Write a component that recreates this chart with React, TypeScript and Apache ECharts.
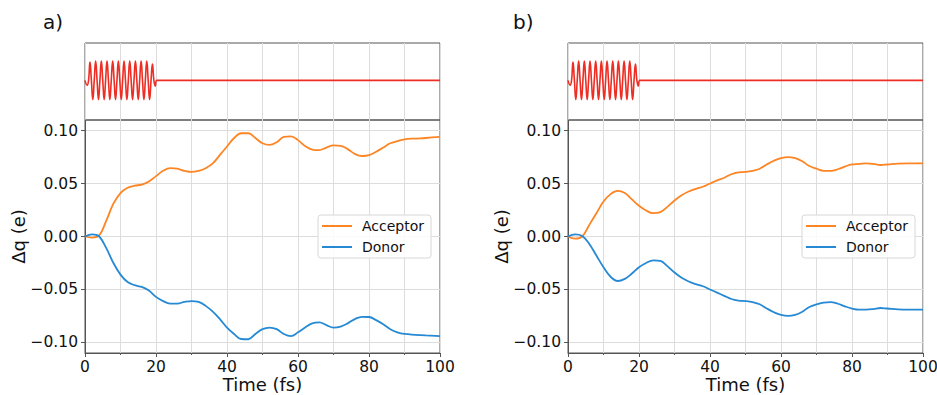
import React, { useEffect, useRef } from "react";
import * as echarts from "echarts";

const FONT = "DejaVu Sans";

const times = [
  0, 2, 4, 6, 8, 10, 12, 14, 16, 18, 20, 22, 24, 26, 28, 30, 32, 34, 36, 38, 40, 42, 44, 46, 48, 50,
  52, 54, 56, 58, 60, 62, 64, 66, 68, 70, 72, 74, 76, 78, 80, 82, 84, 86, 88, 90, 93, 96, 100,
];

const acceptorA = [
  0, -0.001, 0.001, 0.015, 0.031, 0.041, 0.046, 0.048, 0.049, 0.052, 0.057, 0.062, 0.0645, 0.064,
  0.062, 0.061, 0.062, 0.0645, 0.069, 0.077, 0.085, 0.093, 0.0975, 0.0975, 0.093, 0.088, 0.0865,
  0.089, 0.094, 0.0945, 0.091, 0.0855, 0.082, 0.0815, 0.084, 0.086, 0.0855, 0.0825, 0.078, 0.076,
  0.0768, 0.08, 0.084, 0.088, 0.09, 0.0918, 0.0925, 0.093, 0.094,
];

const donorA = [
  0, 0.002, 0, -0.011, -0.025, -0.036, -0.043, -0.046, -0.0476, -0.051, -0.057, -0.061, -0.0633,
  -0.0633, -0.0618, -0.061, -0.0618, -0.0655, -0.071, -0.078, -0.086, -0.092, -0.0968, -0.097,
  -0.092, -0.0875, -0.086, -0.0875, -0.092, -0.094, -0.0905, -0.086, -0.082, -0.081, -0.0837,
  -0.086, -0.085, -0.082, -0.078, -0.0758, -0.076, -0.079, -0.0828, -0.0875, -0.0905, -0.092,
  -0.0928, -0.0934, -0.094,
];

const acceptorB = [
  0, -0.002, 0, 0.011, 0.022, 0.033, 0.04, 0.043, 0.041, 0.035, 0.029, 0.0245, 0.022, 0.023, 0.028,
  0.034, 0.039, 0.0425, 0.045, 0.047, 0.05, 0.053, 0.0555, 0.0588, 0.0606, 0.061, 0.062, 0.064,
  0.068, 0.0715, 0.074, 0.075, 0.074, 0.071, 0.0665, 0.064, 0.062, 0.062, 0.0635, 0.066, 0.068,
  0.0685, 0.069, 0.0685, 0.0675, 0.068, 0.0688, 0.069, 0.069,
];

const donorB = [
  0, 0.002, 0.0005, -0.007, -0.018, -0.029, -0.038, -0.042, -0.04, -0.035, -0.029, -0.025, -0.0225,
  -0.023, -0.028, -0.034, -0.039, -0.0425, -0.045, -0.047, -0.05, -0.053, -0.056, -0.059, -0.0605,
  -0.061, -0.062, -0.064, -0.068, -0.0715, -0.074, -0.075, -0.074, -0.071, -0.0665, -0.064,
  -0.0625, -0.062, -0.0635, -0.066, -0.068, -0.069, -0.069, -0.0685, -0.0675, -0.068, -0.0688,
  -0.069, -0.069,
];

const pulseTime = [
  0, 0.6, 1.0, 1.4, 1.8, 2.2, 2.6, 3.0, 3.4, 3.8, 4.2, 4.6, 5.0, 5.4, 5.8, 6.2, 6.6, 7.0, 7.4, 7.8,
  8.2, 8.6, 9.0, 9.4, 9.8, 10.2, 10.6, 11.0, 11.4, 11.8, 12.2, 12.6, 13.0, 13.4, 13.8, 14.2, 14.6,
  15.0, 15.4, 15.8, 16.2, 16.6, 17.0, 17.4, 17.8, 18.2, 18.6, 19.0, 19.4, 19.8, 20.2, 100,
];

const pulseField = [
  0, -0.25, 0, 0.95, 0, -1, 0, 1, 0, -1, 0, 1, 0, -1, 0, 1, 0, -1, 0, 1, 0, -1, 0, 1, 0, -1, 0, 1,
  0, -1, 0, 1, 0, -1, 0, 1, 0, -1, 0, 1, 0, -1, 0, 1, 0, -1, 0, 0.85, 0, -0.3, 0, 0,
];

const yTicks = [-0.1, -0.05, 0, 0.05, 0.1];
const legendNames = ["Acceptor", "Donor"];

const ORANGE = "#fd8523";
const BLUE = "#2689d4";
const RED = "#ee2e24";
const SPINE = "#555555";
const GRID = "#dddddd";

function pairs(xs: number[], ys: number[]) {
  return xs.map((x, i) => [x, ys[i]]);
}

export default function App() {
  const ref = useRef<HTMLDivElement>(null);

  useEffect(() => {
    if (!ref.current) return;
    const chart = echarts.init(ref.current, undefined, { renderer: "svg" });

    const panelLefts = [85, 568];
    const gridW = 355;
    const grids: any[] = [];
    const xAxes: any[] = [];
    const yAxes: any[] = [];
    const series: any[] = [];

    panelLefts.forEach((left, p) => {
      grids.push({
        left,
        width: gridW,
        top: 43,
        height: 77,
        show: true,
        borderColor: SPINE,
        borderWidth: 1,
        backgroundColor: "transparent",
        containLabel: false,
        outerBoundsMode: "none",
      });
      grids.push({
        left,
        width: gridW,
        top: 120,
        height: 233,
        show: true,
        borderColor: SPINE,
        borderWidth: 1,
        backgroundColor: "transparent",
        containLabel: false,
        outerBoundsMode: "none",
      });

      const gTop = p * 2;
      const gBot = p * 2 + 1;

      xAxes.push({
        type: "value",
        gridIndex: gTop,
        min: 0,
        max: 100,
        interval: 20,
        axisLine: { show: false, onZero: false },
        axisTick: { show: false },
        axisLabel: { show: false },
        splitLine: { show: true, lineStyle: { color: GRID, width: 1 } },
        minorTick: { show: false, splitNumber: 2 },
        minorSplitLine: { show: true, lineStyle: { color: GRID, width: 1 } },
      });
      yAxes.push({
        type: "value",
        gridIndex: gTop,
        min: -2.06,
        max: 1.94,
        show: false,
        axisLine: { onZero: false },
        splitLine: { show: false },
      });

      xAxes.push({
        type: "value",
        gridIndex: gBot,
        min: 0,
        max: 100,
        interval: 20,
        name: "Time (fs)",
        nameLocation: "middle",
        nameGap: 22,
        nameMoveOverlap: false,
        nameTextStyle: { fontFamily: FONT, fontSize: 18, color: "#111", lineHeight: 19 },
        axisLine: { show: true, onZero: false, lineStyle: { color: SPINE, width: 1 } },
        axisTick: { show: true, inside: false, length: 4, lineStyle: { color: SPINE } },
        minorTick: { show: true, splitNumber: 2, length: 2, lineStyle: { color: SPINE } },
        axisLabel: {
          fontFamily: FONT,
          fontSize: 15.5,
          color: "#111",
          margin: 6,
          formatter: (v: number) => String(v),
        },
        splitLine: { show: true, lineStyle: { color: GRID, width: 1 } },
        minorSplitLine: { show: true, lineStyle: { color: GRID, width: 1 } },
      });
      yAxes.push({
        type: "value",
        gridIndex: gBot,
        min: -0.11,
        max: 0.11,
        name: "Δq (e)",
        nameLocation: "middle",
        nameRotate: 90,
        nameGap: 58,
        nameMoveOverlap: false,
        nameTextStyle: { fontFamily: FONT, fontSize: 18, color: "#111" },
        axisLine: { show: true, onZero: false, lineStyle: { color: SPINE, width: 1 } },
        axisTick: {
          show: true,
          inside: false,
          length: 4,
          lineStyle: { color: SPINE },
          customValues: yTicks,
        },
        axisLabel: {
          fontFamily: FONT,
          fontSize: 15.5,
          color: "#111",
          margin: 7,
          customValues: yTicks,
          formatter: (v: number) => v.toFixed(2).replace("-", "\u2212"),
        },
        splitLine: { show: true, lineStyle: { color: GRID, width: 1 } },
      });

      series.push({
        type: "line",
        name: "pulse",
        xAxisIndex: gTop,
        yAxisIndex: gTop,
        data: pairs(pulseTime, pulseField),
        showSymbol: false,
        smooth: 0.5,
        color: RED,
        lineStyle: { color: RED, width: 1.6 },
        z: 3,
      });

      const acc = p === 0 ? acceptorA : acceptorB;
      const don = p === 0 ? donorA : donorB;
      series.push({
        type: "line",
        name: "Acceptor",
        xAxisIndex: gBot,
        yAxisIndex: gBot,
        data: pairs(times, acc),
        showSymbol: false,
        smooth: 0.4,
        color: ORANGE,
        lineStyle: { color: ORANGE, width: 1.8 },
        z: 3,
      });
      series.push({
        type: "line",
        name: "Donor",
        xAxisIndex: gBot,
        yAxisIndex: gBot,
        data: pairs(times, don),
        showSymbol: false,
        smooth: 0.4,
        color: BLUE,
        lineStyle: { color: BLUE, width: 1.8 },
        z: 3,
      });
    });

    const legendCommon = {
      orient: "vertical",
      data: legendNames,
      icon: "rect",
      itemWidth: 30,
      itemHeight: 2,
      itemGap: 7,
      padding: [4, 7, 4, 4],
      backgroundColor: "rgba(255,255,255,0.85)",
      borderColor: "#d8d8d8",
      borderWidth: 1,
      borderRadius: 3,
      selectedMode: false,
      textStyle: { fontFamily: FONT, fontSize: 14, color: "#111", padding: [0, 0, 0, 5] },
    };

    chart.setOption({
      animation: false,
      backgroundColor: "#ffffff",
      textStyle: { fontFamily: FONT },
      title: [
        {
          text: "a)",
          left: 43,
          top: 12,
          padding: 0,
          textStyle: { fontFamily: FONT, fontSize: 20, fontWeight: "normal", color: "#111" },
        },
        {
          text: "b)",
          left: 513,
          top: 12,
          padding: 0,
          textStyle: { fontFamily: FONT, fontSize: 20, fontWeight: "normal", color: "#111" },
        },
      ],
      legend: [
        { ...legendCommon, left: 318, top: 215 },
        { ...legendCommon, left: 802, top: 215 },
      ],
      grid: grids,
      xAxis: xAxes,
      yAxis: yAxes,
      series,
    });

    return () => chart.dispose();
  }, []);

  return (
    <div
      ref={ref}
      style={{ position: "absolute", left: 0, top: 0, width: 937, height: 395 }}
    />
  );
}
